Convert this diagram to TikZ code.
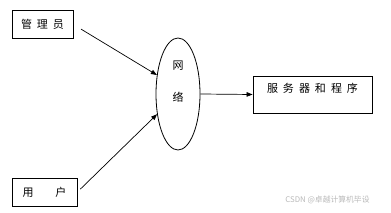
\documentclass[tikz,border=0pt]{standalone}
\usepackage{fontspec}
\setmainfont{Noto Sans CJK SC}
\usetikzlibrary{arrows.meta,shapes.geometric,positioning,calc}
\newcommand{\zigap}{\hspace{5pt}}

\begin{document}
\begin{tikzpicture}[x=1pt, y=-1pt, font=\fontsize{11pt}{13pt}\selectfont,
    box/.style={draw, line width=0.8pt, inner sep=0pt},
    link/.style={line width=0.7pt, -{Triangle[length=6pt,width=4.5pt]}}]
    \useasboundingbox (0,0) rectangle (391,213);

    % 两个角色
    \node[box, minimum width=61pt, minimum height=28pt] (admin) at (42.5,24.5) {管\zigap 理\zigap 员};
    \node[box, minimum width=65pt, minimum height=28pt] (user) at (44.5,192) {用\hspace{22pt}户};

    % 网络
    \node[draw, ellipse, line width=0.8pt, minimum width=44pt, minimum height=112pt, inner sep=0pt] (net) at (178,94) {};
    \node (netA) at (178,66) {网};
    \node (netB) at (178,97) {络};

    % 服务器
    \node[box, minimum width=119pt, text height=14pt, text depth=17pt, inner ysep=3pt] (server) at (312.5,94.5) {服\zigap 务\zigap 器\zigap 和\zigap 程\zigap 序};

    % 连线
    \draw[link, shorten <=9pt] (admin.east) -- (net.138);
    \draw[link, shorten <=4pt] (user.east) -- (net.224);
    \draw[link] (net.east) -- (server.west);

    % 水印
    \node[text=gray!55, font=\fontsize{7.8pt}{9pt}\selectfont] (mark) at (327.5,200) {CSDN @卓越计算机毕设};
\end{tikzpicture}
\end{document}
